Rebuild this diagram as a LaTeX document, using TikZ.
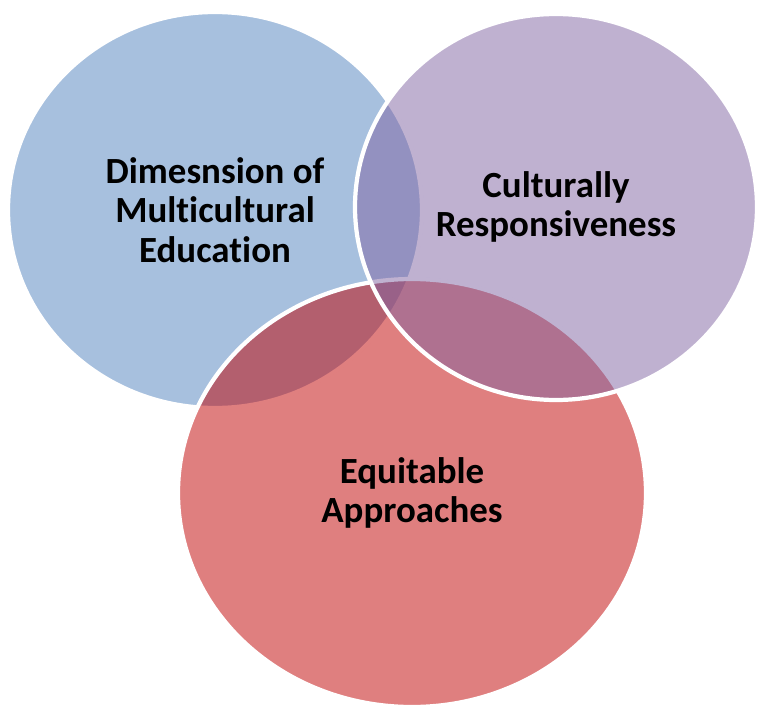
\documentclass[tikz,border=0pt]{standalone}
\usepackage{fontspec}
\setmainfont[Ligatures={NoCommon}]{Carlito}
\usetikzlibrary{shapes.geometric}

\begin{document}
\begin{tikzpicture}
    \tikzset{every node/.style={font=\fontsize{21}{22.5}\selectfont\bfseries, align=center}}

    % Farben
    \definecolor{Venn_blue}{RGB}{79,129,189}
    \definecolor{Venn_red}{RGB}{192,0,0}
    \definecolor{Venn_purple}{RGB}{128,100,162}

    \useasboundingbox (0,0) rectangle (15.14,-14.14);

    % Kreis links (blau)
    \node[ellipse, draw=white, line width=2.4pt, fill=Venn_blue, fill opacity=0.5, text opacity=1, inner sep=0pt, minimum width=8.28cm, minimum height=7.92cm] (dimension) at (4.30,-4.20) {Dimesnsion of\\Multicultural\\Education};

    % Kreis unten (rot)
    \node[ellipse, draw=white, line width=2.4pt, fill=Venn_red, fill opacity=0.5, text opacity=1, inner sep=0pt, minimum width=9.36cm, minimum height=8.56cm] (equitable) at (8.24,-9.86) {Equitable\\Approaches};

    % Kreis rechts (lila)
    \node[ellipse, draw=white, line width=2.4pt, fill=Venn_purple, fill opacity=0.5, text opacity=1, inner sep=0pt, minimum width=8.04cm, minimum height=7.72cm] (culture) at (11.12,-4.14) {Culturally\\Responsiveness};

\end{tikzpicture}
\end{document}
